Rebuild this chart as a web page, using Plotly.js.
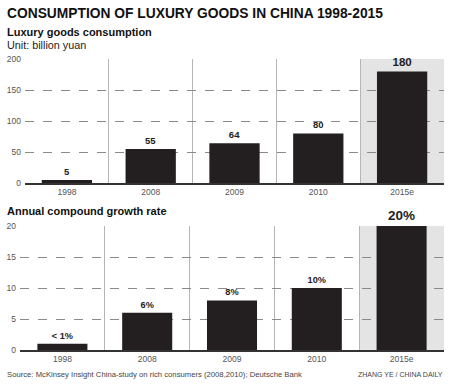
<!DOCTYPE html>
<html><head><meta charset="utf-8">
<script src="https://cdn.plot.ly/plotly-3.0.1.min.js"></script>
<style>html,body{margin:0;padding:0;background:#fff}#chart{width:450px;height:386px}</style>
</head><body><div id="chart"></div>
<script>
const categories = ["1998", "2008", "2009", "2010", "2015e"];
const consumption = [5, 55, 64, 80, 180];
const consumptionLabels = ["5", "55", "64", "80", "180"];
const growth = [1, 6, 8, 10, 20];
const growthLabels = ["< 1%", "6%", "8%", "10%", "20%"];
const consTicks = [0, 50, 100, 150, 200];
const growthTicks = [0, 5, 10, 15, 20];

const W = 450, H = 386;
const px = v => v / W, py = v => 1 - v / H;
const barColor = "#231f20";
const font = "Liberation Sans, Arial, sans-serif";

const traces = [
  {type: "bar", x: categories, y: consumption, xaxis: "x", yaxis: "y",
   marker: {color: barColor}, width: 0.6, text: consumptionLabels,
   textposition: "outside", cliponaxis: false,
   textfont: {family: font, size: [9.5,9.5,9.5,9.5,11.5], color: "#222", weight: "bold"},
   hoverinfo: "none"},
  {type: "bar", x: categories, y: growth, xaxis: "x2", yaxis: "y2",
   marker: {color: barColor}, width: 0.59, text: growthLabels,
   textposition: "outside", cliponaxis: false,
   textfont: {family: font, size: [9.2,9.2,9.2,9.2,13.5], color: "#222", weight: "bold"},
   hoverinfo: "none"}
];

const xCommon = {type: "category", tickson: "boundaries", showgrid: true, gridcolor: "#b5b5b5",
  gridwidth: 1, ticks: "", showline: true, linecolor: "#333", linewidth: 1.5,
  tickfont: {family: font, size: 8.5, color: "#555"}, automargin: false, fixedrange: true};
const yCommon = {showgrid: true, gridcolor: "#8a8a8a", griddash: "dash", gridwidth: 1,
  zeroline: false, ticks: "", showline: false, ticklabelstandoff: 3,
  tickfont: {family: font, size: 8.5, color: "#555"}, automargin: false, fixedrange: true};

const layout = {
  width: W, height: H, margin: {l: 0, r: 0, t: 0, b: 0},
  paper_bgcolor: "#fff", plot_bgcolor: "rgba(0,0,0,0)", showlegend: false,
  bargap: 0.4,
  xaxis: Object.assign({}, xCommon, {domain: [px(25), px(444)], anchor: "y"}),
  yaxis: Object.assign({}, yCommon, {domain: [py(183), py(59)], range: [0, 200], tickvals: consTicks, anchor: "x"}),
  xaxis2: Object.assign({}, xCommon, {domain: [px(20), px(444)], anchor: "y2"}),
  yaxis2: Object.assign({}, yCommon, {domain: [py(350), py(226)], range: [0, 20], tickvals: growthTicks, anchor: "x2"}),
  shapes: [
    {type: "rect", xref: "x", yref: "y domain", x0: 3.5, x1: 4.5, y0: 0, y1: 1, fillcolor: "#e4e4e4", line: {width: 0}, layer: "below"},
    {type: "rect", xref: "x2", yref: "y2 domain", x0: 3.5, x1: 4.5, y0: 0, y1: 1, fillcolor: "#e4e4e4", line: {width: 0}, layer: "below"}
  ],
  annotations: [
    {text: "<b>CONSUMPTION OF LUXURY GOODS IN CHINA 1998-2015</b>", xref: "paper", yref: "paper",
     x: px(5), y: py(13), xanchor: "left", yanchor: "middle", showarrow: false,
     font: {family: font, size: 13.8, color: "#111"}},
    {text: "<b>Luxury goods consumption</b>", xref: "paper", yref: "paper",
     x: px(5), y: py(32), xanchor: "left", yanchor: "middle", showarrow: false,
     font: {family: font, size: 11, color: "#111"}},
    {text: "Unit: billion yuan", xref: "paper", yref: "paper",
     x: px(5), y: py(45), xanchor: "left", yanchor: "middle", showarrow: false,
     font: {family: font, size: 10.8, color: "#222"}},
    {text: "<b>Annual compound growth rate</b>", xref: "paper", yref: "paper",
     x: px(5), y: py(211), xanchor: "left", yanchor: "middle", showarrow: false,
     font: {family: font, size: 11, color: "#111"}},
    {text: "Source: McKinsey Insight China-study on rich consumers (2008,2010); Deutsche Bank", xref: "paper", yref: "paper",
     x: px(5), y: py(374), xanchor: "left", yanchor: "middle", showarrow: false,
     font: {family: font, size: 7.7, color: "#444"}},
    {text: "ZHANG YE / CHINA DAILY", xref: "paper", yref: "paper",
     x: px(445), y: py(374), xanchor: "right", yanchor: "middle", showarrow: false,
     font: {family: font, size: 7, color: "#444"}}
  ]
};

Plotly.newPlot("chart", traces, layout, {displayModeBar: false, staticPlot: true});
</script></body></html>
